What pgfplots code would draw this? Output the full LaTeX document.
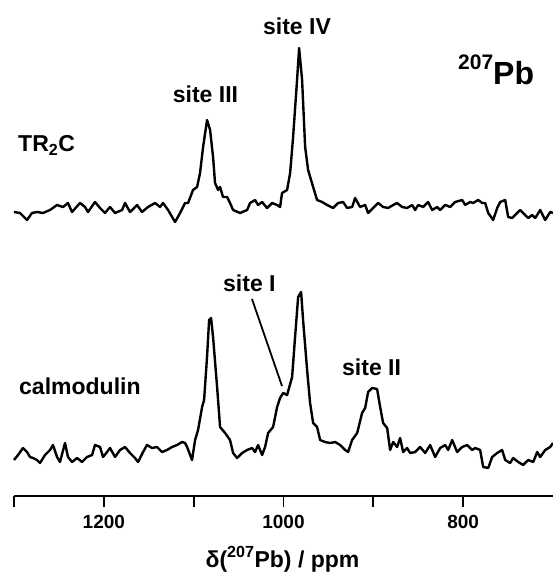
\documentclass[border=0pt]{standalone}
\usepackage{pgfplots}
\pgfplotsset{compat=1.18}
\usepackage{fontspec}
\setmainfont{Liberation Sans}
\begin{document}
\begin{tikzpicture}[x=1pt,y=1pt]
\begin{axis}[
  at={(0,0)}, anchor=south west,
  scale only axis, width=539pt, height=496pt,
  xmin=700, xmax=1300, x dir=reverse, ymin=0, ymax=496,
  axis x line*=bottom, axis y line=none,
  axis line style={line width=1.8pt, -},
  xtick={800,900,1000,1100,1200,1300},
  xticklabels={800,,1000,,1200,},
  tick align=outside, major tick length=11pt,
  every tick/.style={line width=1.8pt, black},
  xticklabel style={font=\bfseries\fontsize{19}{19}\selectfont, inner sep=0pt, yshift=-8pt},
  /pgf/number format/assume math mode=true,
  clip=false,
]
% TR2C trace
\addplot[black, line width=2.4pt, line join=round] coordinates {
(1300,284)(1293.3,283)(1285.5,276)(1280.0,283)(1274.4,284)(1267.7,283)(1259.9,286)(1252.1,291)
(1245.4,289)(1239.9,293)(1235.4,284)(1226.5,293)(1220.9,289)(1217.6,284)(1209.8,294)(1204.2,288)
(1198.7,283)(1193.1,289)(1187.5,283)(1179.7,286)(1176.4,293)(1170.8,284)(1163.0,291)(1157.5,284)
(1150.8,289)(1143.0,293)(1137.4,289)(1134.1,293)(1128.5,286)(1120.7,274)(1115.1,283)(1109.6,293)
(1106.2,293)(1100.7,306)(1096.2,309)(1092.9,323)(1089.5,349)(1085.1,376)(1081.7,366)(1078.4,339)
(1076.2,313)(1072.8,306)(1070.6,309)(1067.3,299)(1062.8,299)(1059.5,293)(1056.1,286)(1048.3,283)
(1040.5,286)(1037.2,293)(1031.6,296)(1028.3,291)(1023.8,294)(1018.3,288)(1012.7,293)(1007.1,291)
(1003.8,289)(1001.6,303)(996.0,306)(992.6,323)(989.3,359)(984.9,416)(982.6,448)(979.3,416)
(975.9,349)(972.6,326)(967.0,309)(962.6,296)(957.0,294)(951.4,291)(944.8,288)(939.2,293)
(933.6,294)(929.2,288)(923.6,289)(920.3,298)(914.7,289)(909.1,291)(905.8,283)(900.2,288)
(894.6,293)(889.1,289)(883.5,288)(877.9,291)(873.5,293)(867.9,289)(862.4,288)(856.8,291)
(853.4,286)(850.1,291)(844.5,289)(839.0,294)(834.5,286)(828.9,289)(825.6,286)(820.0,291)
(814.5,289)(808.9,294)(801.1,296)(797.8,291)(792.2,294)(788.9,293)(783.3,296)(778.8,293)
(775.5,293)(772.1,283)(766.6,276)(762.1,288)(758.8,294)(753.2,296)(749.9,279)(745.4,278)
(739.9,283)(736.5,286)(733.2,283)(727.6,278)(723.2,281)(719.8,278)(714.2,286)(708.7,276)
(703.1,284)(700,283)
};
% calmodulin trace
\addplot[black, line width=2.4pt, line join=round] coordinates {
(1300,36)(1295.5,41)(1290.0,48)(1285.5,44)(1282.2,39)(1278.8,38)(1274.4,36)(1271.0,33)
(1265.5,41)(1259.9,46)(1256.6,51)(1252.1,39)(1248.8,34)(1243.2,53)(1239.9,39)(1235.4,34)
(1229.8,38)(1224.3,34)(1218.7,39)(1213.1,41)(1209.8,51)(1204.2,49)(1200.9,39)(1196.4,44)
(1193.1,48)(1187.5,39)(1182.0,46)(1176.4,49)(1170.8,43)(1165.3,38)(1161.9,34)(1156.3,44)
(1151.9,51)(1146.3,48)(1140.8,49)(1135.2,44)(1129.6,46)(1124.1,49)(1118.5,51)(1112.9,54)
(1109.6,53)(1107.3,49)(1101.8,36)(1098.4,56)(1095.1,66)(1090.6,89)(1088.4,96)(1085.1,139)
(1082.8,176)(1080.6,178)(1078.4,159)(1073.9,109)(1070.6,69)(1065.0,63)(1059.5,56)(1056.1,43)
(1051.7,38)(1046.1,43)(1040.5,46)(1035.0,48)(1031.6,44)(1028.3,51)(1023.8,41)(1020.5,49)
(1017.1,63)(1011.6,69)(1007.1,89)(1003.8,98)(1000.4,103)(996.0,101)(990.4,119)(987.1,159)
(983.7,199)(980.4,204)(978.2,176)(973.7,126)(970.4,93)(967.0,73)(962.6,69)(959.2,56)
(953.7,54)(948.1,53)(942.5,54)(937.0,51)(931.4,46)(928.1,44)(923.6,56)(918.0,63)
(912.5,83)(909.1,88)(905.8,104)(901.3,108)(895.8,107)(892.4,89)(889.1,73)(884.6,68)
(881.3,46)(877.9,54)(873.5,49)(870.2,58)(866.8,44)(862.4,48)(859.0,43)(853.4,44)
(847.9,49)(842.3,43)(836.7,51)(831.2,39)(825.6,48)(820.0,51)(816.7,46)(812.2,56)
(806.7,44)(801.1,49)(795.5,51)(790.0,46)(786.6,48)(781.1,46)(777.7,29)(772.1,28)
(767.7,39)(762.1,43)(756.6,46)(753.2,36)(747.7,33)(744.3,38)(738.7,34)(733.2,31)
(727.6,36)(722.0,34)(717.6,44)(714.2,39)(708.7,46)(703.1,49)(700,53)
};
\end{axis}
\begin{scope}[font=\bfseries\fontsize{23}{23}\selectfont, inner sep=0pt]
\node[anchor=base] at (283,461) {site IV};
\node[anchor=base] at (191.5,393) {site III};
\node[anchor=base west] at (4,344) {TR\textsubscript{2}C};
\node[anchor=base west] at (444,411) {{\fontsize{21}{21}\selectfont\raisebox{15pt}{207}}{\fontsize{32}{32}\selectfont Pb}};
\node[anchor=base west] at (5,101) {calmodulin};
\node[anchor=base west] at (209,204) {site I};
\node[anchor=base west] at (328,121) {site II};
\node[anchor=base] at (268.5,-71) {δ(\textsuperscript{207}Pb) / ppm};
\end{scope}
\draw[line width=1.8pt] (238,197) -- (268,110);
\pgfresetboundingbox
\path[use as bounding box] (-14,-86) rectangle (539,496);
\end{tikzpicture}
\end{document}
